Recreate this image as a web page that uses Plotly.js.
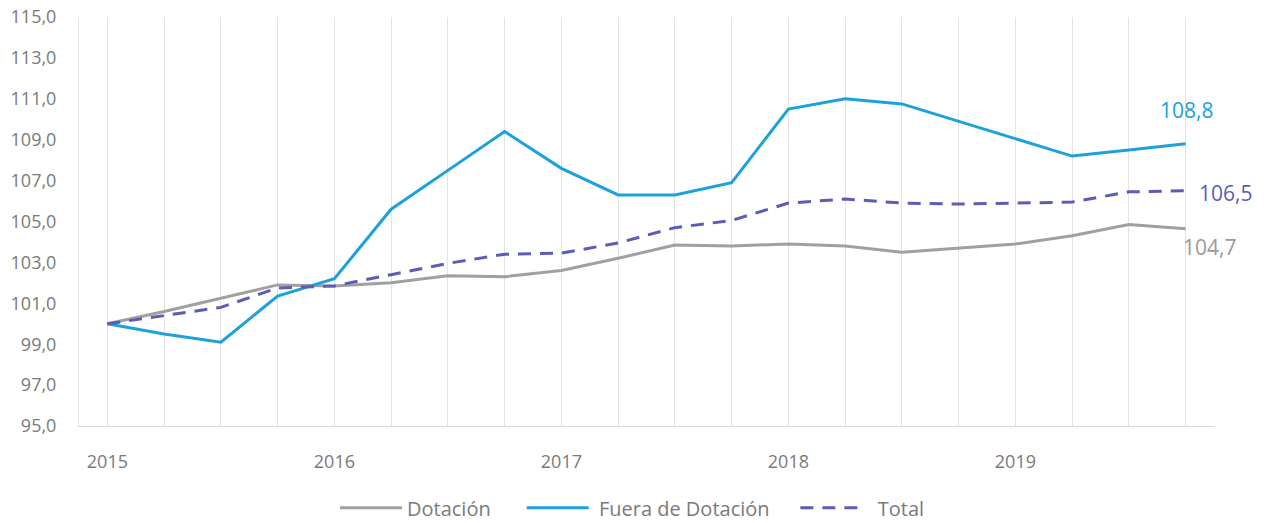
<!DOCTYPE html>
<html>
<head>
<meta charset="utf-8">
<script src="https://cdn.plot.ly/plotly-3.0.1.min.js"></script>
<style>html,body{margin:0;padding:0;background:#fff;}#chart{width:1265px;height:523px;}</style>
</head>
<body>
<div id="chart"></div>
<script>
const categories = ["2015 T1","2015 T2","2015 T3","2015 T4","2016 T1","2016 T2","2016 T3","2016 T4","2017 T1","2017 T2","2017 T3","2017 T4","2018 T1","2018 T2","2018 T3","2018 T4","2019 T1","2019 T2","2019 T3","2019 T4"];
const yearLabels = ["2015","2016","2017","2018","2019"];
const dotacion = [100.0,100.6,101.25,101.9,101.85,102.0,102.35,102.3,102.6,103.2,103.85,103.8,103.9,103.8,103.5,103.7,103.9,104.3,104.85,104.65];
const fueraDotacion = [100.0,99.5,99.1,101.35,102.2,105.6,107.5,109.4,107.6,106.3,106.3,106.9,110.5,111.0,110.75,109.9,109.05,108.2,108.5,108.8];
const total = [100.0,100.4,100.8,101.75,101.85,102.4,102.95,103.4,103.45,103.95,104.7,105.05,105.9,106.1,105.9,105.85,105.9,105.95,106.45,106.5];
const seriesNames = ["Dotación","Fuera de Dotación","Total"];
const endLabels = ["104,7","108,8","106,5"];

const font = "'Open Sans', 'Noto Sans', sans-serif";
const cGrey = "#a0a0a0", cBlue = "#1ca1dc", cTotal = "#5a5cb8";
const txt = "#7a7a7a";
const lead = "\u00a0";
const pad = "\u00a0\u00a0\u00a0\u00a0";

const tickText = categories.map(c => {
  const y = c.slice(0,4);
  return (c.endsWith("T1") && yearLabels.includes(y)) ? y : "";
});

const traces = [
  {x: categories, y: dotacion, name: seriesNames[0] + pad + "\u00a0", type: "scatter", mode: "lines",
   line: {color: cGrey, width: 3}},
  {x: categories, y: fueraDotacion, name: lead + seriesNames[1] + pad, type: "scatter", mode: "lines",
   line: {color: cBlue, width: 3}},
  {x: categories, y: total, name: lead + lead + seriesNames[2], type: "scatter", mode: "lines",
   line: {color: cTotal, width: 3, dash: "13px,9px"}}
];

const last = categories[categories.length-1];
const layout = {
  width: 1265, height: 523,
  margin: {l: 79, r: 51, t: 17, b: 97, autoexpand: false},
  paper_bgcolor: "#ffffff", plot_bgcolor: "#ffffff",
  separators: ",.",
  font: {family: font, color: txt, size: 18},
  showlegend: true,
  legend: {orientation: "h", x: 0.5, xref: "container", xanchor: "center",
           y: 0.029, yref: "container", yanchor: "middle",
           font: {size: 20, color: txt}, itemwidth: 62, traceorder: "normal"},
  xaxis: {type: "category", range: [-0.5, categories.length - 0.5],
          tickvals: categories, ticktext: tickText, showgrid: true,
          gridcolor: "#e3e3e3", gridwidth: 1, showline: true, linecolor: "#d9d9d9", linewidth: 1,
          ticks: "", ticklen: 0, ticklabelstandoff: 19, zeroline: false,
          tickfont: {size: 18, color: txt}, fixedrange: true},
  yaxis: {range: [95, 115], dtick: 2, tick0: 95, tickformat: ".1f", showgrid: false,
          showline: true, linecolor: "#e3e3e3", linewidth: 1, zeroline: false, ticks: "",
          ticklabelstandoff: 18,
          tickfont: {size: 18, color: txt}, fixedrange: true},
  annotations: [
    {x: last, y: dotacion[dotacion.length-1], text: endLabels[0], showarrow: false,
     xanchor: "left", yanchor: "middle", xshift: -5, yshift: -18,
     font: {size: 21, color: "#999999", family: font}},
    {x: last, y: fueraDotacion[fueraDotacion.length-1], text: endLabels[1], showarrow: false,
     xanchor: "center", yanchor: "middle", xshift: 1, yshift: 34,
     font: {size: 21, color: cBlue, family: font}},
    {x: last, y: total[total.length-1], text: endLabels[2], showarrow: false,
     xanchor: "left", yanchor: "middle", xshift: 11, yshift: -2,
     font: {size: 21, color: cTotal, family: font}}
  ]
};

Plotly.newPlot("chart", traces, layout, {displayModeBar: false, staticPlot: true});
</script>
</body>
</html>
